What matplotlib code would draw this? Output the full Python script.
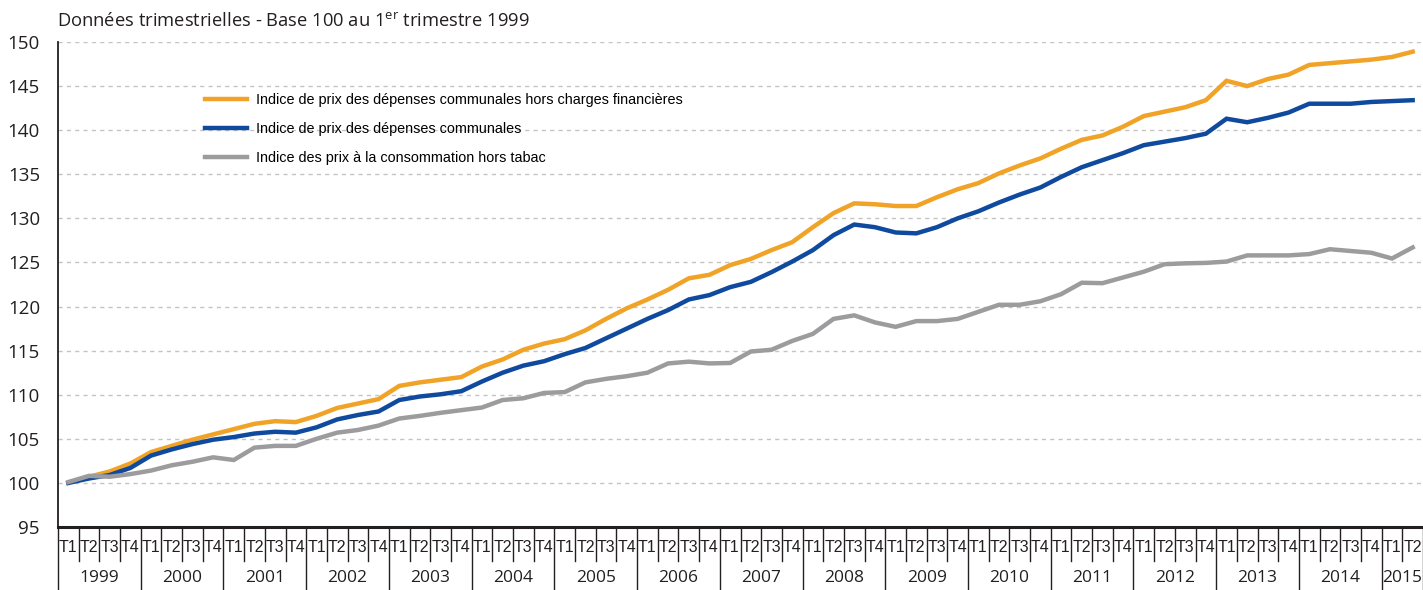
import matplotlib
matplotlib.use("Agg")
import matplotlib.pyplot as plt
from matplotlib.lines import Line2D

# ---------------- data ----------------
years = list(range(1999, 2016))
quarters = ["T1", "T2", "T3", "T4"]
quarter_labels = [q for y in years for q in quarters][:66]
year_labels = [str(y) for y in years]
year_counts = [4] * 16 + [2]

depenses_hors_charges = [
    100.0, 100.7, 101.3, 102.2, 103.5, 104.2, 104.9, 105.5, 106.1, 106.7, 107.0, 106.9,
    107.6, 108.5, 109.0, 109.5, 111.0, 111.4, 111.7, 112.0, 113.2, 114.0, 115.1, 115.8,
    116.3, 117.3, 118.6, 119.8, 120.8, 121.9, 123.2, 123.6, 124.7, 125.4, 126.4, 127.3,
    129.0, 130.6, 131.7, 131.6, 131.4, 131.4, 132.4, 133.3, 134.0, 135.1, 136.0, 136.8,
    137.9, 138.9, 139.4, 140.4, 141.6, 142.1, 142.6, 143.4, 145.6, 145.0, 145.8, 146.3,
    147.4, 147.6, 147.8, 148.0, 148.3, 148.9]
depenses_communales = [
    100.0, 100.5, 100.9, 101.7, 103.1, 103.8, 104.4, 104.9, 105.2, 105.6, 105.8, 105.7,
    106.3, 107.2, 107.7, 108.1, 109.4, 109.8, 110.05, 110.4, 111.5, 112.5, 113.3, 113.8,
    114.6, 115.3, 116.4, 117.5, 118.6, 119.6, 120.8, 121.3, 122.2, 122.8, 123.9, 125.1,
    126.4, 128.1, 129.3, 129.0, 128.4, 128.3, 129.0, 130.0, 130.8, 131.8, 132.7, 133.5,
    134.7, 135.8, 136.6, 137.4, 138.3, 138.7, 139.1, 139.6, 141.3, 140.9, 141.4, 142.0,
    143.0, 143.0, 143.0, 143.2, 143.3, 143.4]
prix_conso_hors_tabac = [
    100.1, 100.8, 100.7, 101.0, 101.4, 102.0, 102.4, 102.9, 102.6, 104.0, 104.2, 104.2,
    105.0, 105.7, 106.0, 106.5, 107.3, 107.6, 107.95, 108.25, 108.55, 109.4, 109.6, 110.2,
    110.3, 111.4, 111.8, 112.1, 112.5, 113.55, 113.75, 113.55, 113.6, 114.9, 115.1, 116.1,
    116.9, 118.6, 119.0, 118.2, 117.7, 118.35, 118.35, 118.6, 119.4, 120.2, 120.2, 120.6,
    121.4, 122.7, 122.65, 123.3, 123.95, 124.8, 124.9, 124.95, 125.1, 125.8, 125.8, 125.8,
    125.95, 126.5, 126.3, 126.1, 125.45, 126.7]

series_names = [
    "Indice de prix des dépenses communales hors charges financières",
    "Indice de prix des dépenses communales",
    "Indice des prix à la consommation hors tabac",
]
colors = ["#f0a326", "#0f4a9e", "#9c9c9e"]
title = "Données trimestrielles - Base 100 au 1$^{\\mathrm{er}}$ trimestre 1999"

# ---------------- style ----------------
DARK = "#231f20"
REG = ["Open Sans", "DejaVu Sans"]
NARROW = ["Liberation Sans Narrow", "Liberation Sans", "DejaVu Sans"]
plt.rcParams["mathtext.fontset"] = "custom"
plt.rcParams["mathtext.rm"] = "Open Sans"

fig = plt.figure(figsize=(14.23, 5.90), dpi=100)
ax = fig.add_axes([58 / 1423, 1 - 527 / 590, 1 - 58 / 1423, (527 - 42) / 590])

x = list(range(len(quarter_labels)))
for vals, name, c in zip([depenses_hors_charges, depenses_communales, prix_conso_hors_tabac],
                         series_names, colors):
    ax.plot(x, vals, color=c, lw=3.2, label=name, solid_joinstyle="miter", zorder=3)

ax.set_xlim(-0.5, len(x) - 0.5)
ax.set_ylim(95, 150)
ax.set_yticks(range(95, 151, 5))
ax.yaxis.grid(True, color="#c4c4c4", linestyle=(0, (3, 3)), lw=1.0)
ax.set_axisbelow(True)
for s in ["top", "right"]:
    ax.spines[s].set_visible(False)
ax.spines["left"].set_color(DARK)
ax.spines["left"].set_linewidth(1.3)
ax.spines["bottom"].set_color(DARK)
ax.spines["bottom"].set_linewidth(2.2)
ax.tick_params(axis="y", length=0, pad=13, labelsize=13.5, labelcolor=DARK)
for lab in ax.get_yticklabels():
    lab.set_family(REG)

ax.set_xticks(x)
ax.set_xticklabels(quarter_labels, fontsize=11.5, color=DARK, family=NARROW)
ax.tick_params(axis="x", length=0, pad=9)

# separators
tr = ax.get_xaxis_transform()
h_px = 485.0
start = 0
for cnt in year_counts:
    for k in range(start, start + cnt):
        if k == start:
            y0 = -63 / h_px
        else:
            y0 = -34 / h_px
        ax.add_line(Line2D([k - 0.5, k - 0.5], [0, y0], transform=tr, color=DARK,
                           lw=1.0, clip_on=False))
    start += cnt
ax.add_line(Line2D([len(x) - 0.5, len(x) - 0.5], [0, -63 / h_px], transform=tr,
                   color=DARK, lw=1.0, clip_on=False))

start = 0
for lab, cnt in zip(year_labels, year_counts):
    ax.text(start + (cnt - 1) / 2, -51 / h_px, lab, transform=tr, ha="center",
            va="center", fontsize=12.5, color=DARK, family=REG)
    start += cnt

ax.legend(loc="upper left", bbox_to_anchor=((205 - 58) / 1365, 1 - (93 - 42) / h_px),
          frameon=False, borderpad=0, borderaxespad=0, handlelength=2.9,
          handletextpad=0.65, labelspacing=1.05,
          prop={"family": NARROW, "size": 10.4})

fig.text(57 / 1423, 1 - 21 / 590, title, ha="left", va="center", fontsize=13.2,
         color=DARK, family=REG)

fig.savefig("out.png", dpi=100)
